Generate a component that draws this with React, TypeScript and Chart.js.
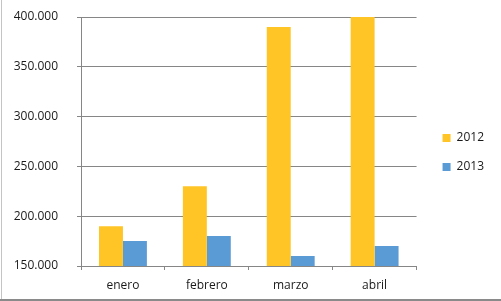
import React, { useEffect, useRef } from "react";
import { Chart, registerables } from "chart.js";

Chart.register(...registerables);

const categories = ["enero", "febrero", "marzo", "abril"];
const series2012 = [190000, 230000, 390000, 400000];
const series2013 = [175000, 180000, 160000, 170000];
const seriesLabels = ["2012", "2013"];
const yMin = 150000;
const yMax = 400000;
const yStep = 50000;

const fmt = (v: number) =>
  String(Math.round(v)).replace(/\B(?=(\d{3})+(?!\d))/g, ".");

const FONT = { family: "'Open Sans', sans-serif", size: 12 };
const GRID = "#868686";
const TEXT = "#1a1a1a";

export default function App() {
  const ref = useRef<HTMLCanvasElement | null>(null);

  useEffect(() => {
    if (!ref.current) return;
    const chart = new Chart(ref.current, {
      type: "bar",
      data: {
        labels: categories,
        datasets: [
          {
            label: seriesLabels[0],
            data: series2012,
            backgroundColor: "#FFC526",
            borderWidth: 0,
            categoryPercentage: 0.571,
            barPercentage: 1,
          },
          {
            label: seriesLabels[1],
            data: series2013,
            backgroundColor: "#5B9BD5",
            borderWidth: 0,
            categoryPercentage: 0.571,
            barPercentage: 1,
          },
        ],
      },
      options: {
        animation: false,
        responsive: false,
        maintainAspectRatio: false,
        devicePixelRatio: 1,
        layout: { padding: { top: 4, right: 7, bottom: 0, left: 0 } },
        plugins: {
          legend: {
            position: "right",
            align: "center",
            labels: {
              boxWidth: 8,
              boxHeight: 8,
              padding: 17,
              color: TEXT,
              font: FONT,
            },
          },
          tooltip: { enabled: false },
        },
        scales: {
          x: {
            type: "category",
            offset: true,
            grid: {
              display: true,
              offset: true,
              drawOnChartArea: false,
              drawTicks: true,
              tickLength: 4,
              color: GRID,
            },
            border: { display: true, color: GRID },
            ticks: { color: TEXT, font: FONT, padding: 8 },
            afterFit: (s: any) => {
              s.height = 35;
            },
          },
          xTop: {
            type: "linear",
            position: "top",
            display: true,
            min: 0,
            max: 1,
            grid: { display: false, drawTicks: false },
            border: { display: false },
            ticks: { display: false },
            afterFit: (s: any) => {
              s.height = 13;
            },
          },
          y: {
            type: "linear",
            position: "left",
            min: yMin,
            max: yMax,
            ticks: {
              stepSize: yStep,
              color: TEXT,
              font: FONT,
              padding: 19,
              callback: (v: any) => fmt(Number(v)),
            },
            grid: {
              color: GRID,
              drawTicks: true,
              tickLength: 4,
            },
            border: { display: true, color: GRID },
            afterFit: (s: any) => {
              s.width = 81;
              s.paddingTop = 0;
              s.paddingBottom = 0;
            },
          },
          yRight: {
            type: "linear",
            position: "right",
            display: true,
            min: 0,
            max: 1,
            grid: { display: false, drawTicks: false },
            border: { display: false },
            ticks: { display: false },
            afterFit: (s: any) => {
              s.width = 9;
            },
          },
        },
      },
    });
    return () => chart.destroy();
  }, []);

  return (
    <div
      style={{
        position: "fixed",
        left: 0,
        top: 0,
        width: 501,
        height: 301,
        background: "#fff",
      }}
    >
      <canvas ref={ref} width={501} height={301} style={{ display: "block" }} />
      <div
        style={{
          position: "absolute",
          left: 1,
          top: 0,
          width: 1,
          height: 299,
          background: "#c4c4c4",
        }}
      />
      <div
        style={{
          position: "absolute",
          left: 0,
          top: 299,
          width: 501,
          height: 2,
          background: "#8a8a8a",
        }}
      />
    </div>
  );
}
